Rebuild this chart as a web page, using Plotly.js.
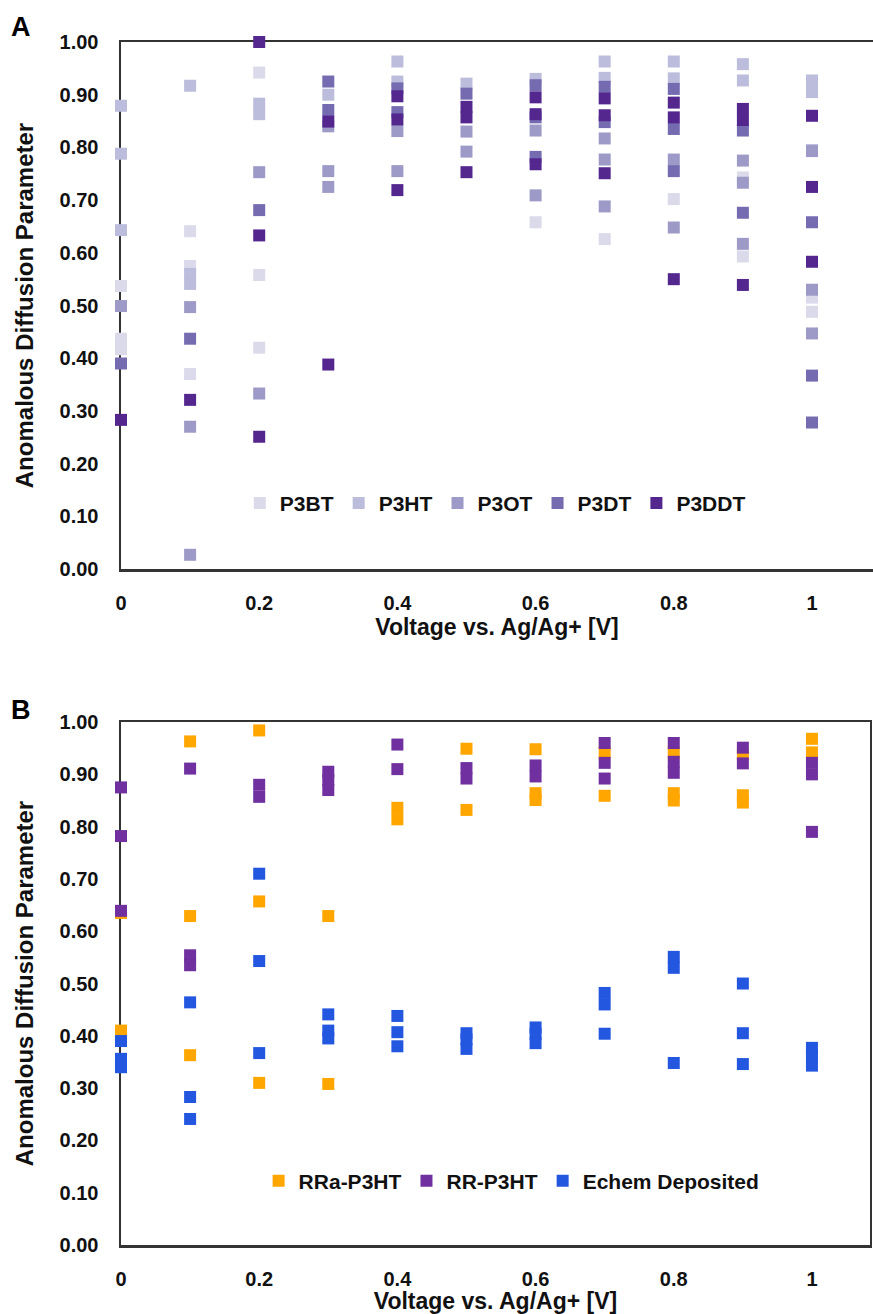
<!DOCTYPE html>
<html>
<head>
<meta charset="utf-8">
<script src="https://cdn.plot.ly/plotly-3.0.1.min.js"></script>
<style>html,body{margin:0;padding:0;background:#fff;}#chart{width:873px;height:1314px;}</style>
</head>
<body>
<div id="chart"></div>
<script>
// ---------- Panel A data (voltage, anomalous diffusion parameter) ----------
const P3BT_x  = [0, 0, 0, 0.1, 0.1, 0.1, 0.2, 0.2, 0.2, 0.6, 0.7, 0.8, 0.9, 0.9, 1.0, 1.0];
const P3BT_y  = [0.537, 0.437, 0.417, 0.641, 0.575, 0.370, 0.942, 0.558, 0.420, 0.658, 0.626, 0.702, 0.743, 0.593, 0.515, 0.488];

const P3HT_x  = [0, 0, 0, 0.1, 0.1, 0.1, 0.2, 0.2, 0.3, 0.4, 0.4, 0.5, 0.6, 0.7, 0.7, 0.8, 0.8, 0.9, 0.9, 1.0, 1.0, 1.0];
const P3HT_y  = [0.879, 0.788, 0.643, 0.917, 0.560, 0.541, 0.883, 0.863, 0.900, 0.963, 0.925, 0.921, 0.930, 0.963, 0.932, 0.963, 0.931, 0.958, 0.927, 0.927, 0.905, 0.795];

const P3OT_x  = [0, 0.1, 0.1, 0.1, 0.2, 0.2, 0.3, 0.3, 0.3, 0.4, 0.4, 0.5, 0.5, 0.6, 0.6, 0.7, 0.7, 0.7, 0.8, 0.8, 0.9, 0.9, 0.9, 1.0, 1.0, 1.0];
const P3OT_y  = [0.499, 0.497, 0.270, 0.027, 0.753, 0.333, 0.840, 0.755, 0.725, 0.831, 0.755, 0.830, 0.792, 0.832, 0.709, 0.817, 0.777, 0.688, 0.777, 0.648, 0.775, 0.733, 0.617, 0.793, 0.530, 0.447];

const P3DT_x  = [0, 0.1, 0.2, 0.3, 0.3, 0.4, 0.4, 0.5, 0.6, 0.6, 0.6, 0.7, 0.7, 0.8, 0.8, 0.8, 0.9, 0.9, 1.0, 1.0, 1.0];
const P3DT_y  = [0.390, 0.437, 0.681, 0.925, 0.871, 0.912, 0.867, 0.902, 0.918, 0.857, 0.782, 0.915, 0.848, 0.911, 0.835, 0.755, 0.832, 0.676, 0.658, 0.367, 0.278];

const P3DDT_x = [0, 0.1, 0.2, 0.2, 0.2, 0.3, 0.3, 0.4, 0.4, 0.4, 0.5, 0.5, 0.5, 0.6, 0.6, 0.6, 0.7, 0.7, 0.7, 0.8, 0.8, 0.8, 0.9, 0.9, 0.9, 1.0, 1.0, 1.0];
const P3DDT_y = [0.283, 0.321, 1.000, 0.633, 0.251, 0.849, 0.388, 0.897, 0.853, 0.719, 0.877, 0.857, 0.753, 0.895, 0.863, 0.768, 0.893, 0.861, 0.751, 0.885, 0.857, 0.550, 0.873, 0.852, 0.539, 0.860, 0.725, 0.583];

// ---------- Panel B data ----------
const RRa_x   = [0, 0, 0.1, 0.1, 0.1, 0.2, 0.2, 0.2, 0.3, 0.3, 0.4, 0.4, 0.5, 0.5, 0.6, 0.6, 0.6, 0.7, 0.7, 0.8, 0.8, 0.8, 0.9, 0.9, 0.9, 1.0, 1.0];
const RRa_y   = [0.635, 0.410, 0.963, 0.629, 0.363, 0.984, 0.657, 0.310, 0.629, 0.308, 0.836, 0.814, 0.949, 0.832, 0.948, 0.864, 0.851, 0.942, 0.859, 0.942, 0.864, 0.850, 0.938, 0.860, 0.846, 0.968, 0.942];

const RR_x    = [0, 0, 0, 0.1, 0.1, 0.1, 0.2, 0.2, 0.3, 0.3, 0.3, 0.4, 0.4, 0.5, 0.5, 0.6, 0.6, 0.7, 0.7, 0.7, 0.8, 0.8, 0.8, 0.9, 0.9, 1.0, 1.0, 1.0];
const RR_y    = [0.875, 0.782, 0.639, 0.911, 0.554, 0.535, 0.880, 0.857, 0.905, 0.889, 0.870, 0.957, 0.910, 0.912, 0.892, 0.917, 0.896, 0.960, 0.922, 0.892, 0.960, 0.924, 0.903, 0.951, 0.921, 0.922, 0.900, 0.790];

const Echem_x = [0, 0, 0, 0.1, 0.1, 0.1, 0.2, 0.2, 0.2, 0.3, 0.3, 0.3, 0.4, 0.4, 0.4, 0.5, 0.5, 0.5, 0.6, 0.6, 0.6, 0.7, 0.7, 0.7, 0.8, 0.8, 0.8, 0.9, 0.9, 0.9, 1.0, 1.0, 1.0];
const Echem_y = [0.390, 0.356, 0.340, 0.464, 0.283, 0.241, 0.710, 0.543, 0.367, 0.441, 0.410, 0.395, 0.438, 0.407, 0.380, 0.405, 0.393, 0.375, 0.416, 0.404, 0.386, 0.482, 0.460, 0.404, 0.551, 0.530, 0.348, 0.500, 0.405, 0.346, 0.377, 0.361, 0.343];

// ---------- Labels ----------
const xTickVals = [0, 0.2, 0.4, 0.6, 0.8, 1];
const xTickText = ['0', '0.2', '0.4', '0.6', '0.8', '1'];
const xTitle = 'Voltage vs. Ag/Ag+ [V]';
const yTitle = 'Anomalous Diffusion Parameter';

const FONT = 'Liberation Sans, Arial, Helvetica, sans-serif';
const MS = 12;

function series(name, xs, ys, color, xa, ya, leg) {
  return {
    type: 'scatter', mode: 'markers', name: name, x: xs, y: ys,
    xaxis: xa, yaxis: ya, legend: leg, cliponaxis: false,
    marker: {symbol: 'square', size: MS, color: color, line: {width: 0}},
    hoverinfo: 'x+y+name'
  };
}

const traces = [
  series('P3BT',  P3BT_x,  P3BT_y,  '#dadaeb', 'x', 'y', 'legend'),
  series('P3HT',  P3HT_x,  P3HT_y,  '#bcbddc', 'x', 'y', 'legend'),
  series('P3OT',  P3OT_x,  P3OT_y,  '#9e9ac8', 'x', 'y', 'legend'),
  series('P3DT',  P3DT_x,  P3DT_y,  '#756bb1', 'x', 'y', 'legend'),
  series('P3DDT', P3DDT_x, P3DDT_y, '#54278f', 'x', 'y', 'legend'),
  series('RRa-P3HT', RRa_x, RRa_y, '#ffa600', 'x2', 'y2', 'legend2'),
  series('RR-P3HT',  RR_x,  RR_y,  '#7030a0', 'x2', 'y2', 'legend2'),
  series('Echem Deposited', Echem_x, Echem_y, '#2457e0', 'x2', 'y2', 'legend2')
];

const tickFont = {family: FONT, size: 20, color: '#111', weight: 'bold'};
const xTitleFont = {family: FONT, size: 23, color: '#111', weight: 'bold'};
const yTitleFont = {family: FONT, size: 24, color: '#111', weight: 'bold'};

function xAxis(domain, rmax, anchor) {
  return {
    domain: domain, range: [0, rmax], anchor: anchor,
    tickvals: xTickVals, ticktext: xTickText, ticks: '',
    ticklabelstandoff: 14,
    showgrid: false, zeroline: false,
    showline: true, linecolor: '#333', linewidth: 2.5, mirror: true,
    layer: 'below traces',
    tickfont: tickFont,
    title: {text: xTitle, font: xTitleFont, standoff: 6}
  };
}
function yAxis(domain, anchor, mirror) {
  return {
    domain: domain, range: [0, 1], anchor: anchor,
    dtick: 0.1, tick0: 0, tickformat: '.2f', ticks: '',
    ticklabelstandoff: 16,
    showgrid: false, zeroline: false,
    showline: true, linecolor: '#333', linewidth: 2.5, mirror: mirror,
    layer: 'below traces',
    tickfont: tickFont,
    title: {text: yTitle, font: yTitleFont, standoff: 19}
  };
}

const legFont = {family: FONT, size: 21, color: '#111', weight: 'bold'};

const layout = {
  width: 873, height: 1314,
  margin: {l: 121, r: 0, t: 42, b: 69},
  paper_bgcolor: '#fff', plot_bgcolor: 'rgba(0,0,0,0)',
  showlegend: true,
  xaxis: xAxis([0, 1], 1.0883, 'y'),
  yaxis: yAxis([0.5619, 1], 'x', false),
  xaxis2: xAxis([0, 0.996], 1.084, 'y2'),
  yaxis2: yAxis([0, 0.4347], 'x2', true),
  legend: {orientation: 'h', x: 0.158, y: 0.6165, xanchor: 'left', yanchor: 'middle',
           bgcolor: 'rgba(0,0,0,0)', font: legFont, itemwidth: 30},
  legend2: {orientation: 'h', x: 0.183, y: 0.0532, xanchor: 'left', yanchor: 'middle',
            bgcolor: 'rgba(0,0,0,0)', font: legFont, itemwidth: 30},
  annotations: [
    {text: 'A', xref: 'paper', yref: 'paper', x: -0.133, y: 1.0125, xanchor: 'center', yanchor: 'middle',
     showarrow: false, font: {family: FONT, size: 27, color: '#000', weight: 'bold'}},
    {text: 'B', xref: 'paper', yref: 'paper', x: -0.133, y: 0.4447, xanchor: 'center', yanchor: 'middle',
     showarrow: false, font: {family: FONT, size: 27, color: '#000', weight: 'bold'}}
  ]
};

Plotly.newPlot('chart', traces, layout, {displayModeBar: false, staticPlot: true});
</script>
</body>
</html>
